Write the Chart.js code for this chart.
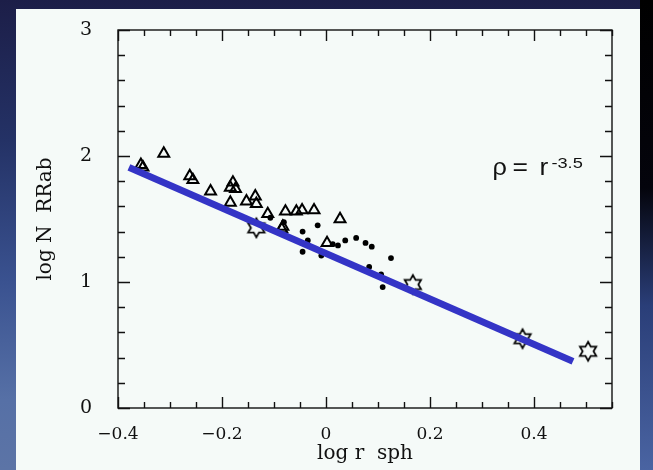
<!DOCTYPE html>
<html><head><meta charset="utf-8">
<script src="https://cdn.jsdelivr.net/npm/chart.js@4.4.1/dist/chart.umd.min.js"></script>
<style>
html,body{margin:0;padding:0;width:653px;height:470px;overflow:hidden;}
body{background:linear-gradient(to bottom,#1c1e48 0%,#243266 30%,#3a5290 60%,#5670a6 85%,#5c74a6 100%);position:relative;}
#rightband{position:absolute;left:640px;top:0;width:13px;height:470px;background:linear-gradient(to bottom,#000 0%,#04040c 40%,#2a3e78 65%,#4a64a2 100%);}
#panel{position:absolute;left:16px;top:9px;width:624px;height:461px;background:#f5faf8;}
canvas{display:block;}
</style></head>
<body>
<div id="rightband"></div>
<div id="panel"><canvas id="c" width="624" height="461"></canvas></div>
<script>
// ---- data ----
const triX = [-0.356,-0.352,-0.312,-0.262,-0.256,-0.222,-0.179,-0.184,-0.174,-0.184,-0.153,-0.136,-0.134,-0.112,-0.078,-0.057,-0.046,-0.023,-0.083,-0.085,0.002,0.027];
const triY = [1.93,1.91,2.02,1.84,1.81,1.72,1.79,1.75,1.74,1.63,1.64,1.68,1.62,1.54,1.56,1.56,1.57,1.57,1.44,1.42,1.31,1.50];
const dotX = [-0.107,-0.081,-0.045,-0.016,-0.035,-0.045,-0.009,0.013,0.023,0.037,0.058,0.076,0.088,0.125,0.083,0.106,0.109];
const dotY = [1.51,1.475,1.40,1.45,1.33,1.24,1.21,1.30,1.29,1.33,1.35,1.31,1.28,1.19,1.12,1.06,0.96];
const starX = [-0.134,0.167,0.378,0.504];
const starY = [1.43,0.98,0.55,0.45];
const fitX = [-0.379,0.475];
const fitY = [1.91,0.37];
const xTickVals = [-0.4,-0.2,0,0.2,0.4];
const xTickLabels = ['\u22120.4','\u22120.2','0','0.2','0.4'];
const yTickVals = [0,1,2,3];
const yTickLabels = ['0','1','2','3'];
const xTitle = 'log r  sph';
const yTitle = 'log N  RRab';
const annText = ['\u03C1','=','r','-3.5'];
const annAt = [0.32, 1.846];

const toPts = (xs, ys) => xs.map((v, i) => ({x: v, y: ys[i]}));

// hexagram outline marker
function makeStar(){
  const c = document.createElement('canvas');
  c.width = 24; c.height = 24;
  const g = c.getContext('2d');
  g.beginPath();
  for (let i = 0; i < 12; i++){
    const r = (i % 2 === 0) ? 9.5 : 5.4;
    const a = -Math.PI/2 + i*Math.PI/6;
    const px = 12 + r*Math.cos(a), py = 12 + r*Math.sin(a);
    if (i === 0) g.moveTo(px, py); else g.lineTo(px, py);
  }
  g.closePath();
  g.fillStyle = '#f5faf8'; g.fill();
  g.strokeStyle = '#000'; g.lineWidth = 1.7; g.stroke();
  return c;
}

const frame = {
  id: 'frame',
  beforeDatasetsDraw(chart){
    const {ctx, chartArea: a, scales: {x, y}} = chart;
    ctx.save();
    ctx.strokeStyle = '#111'; ctx.lineWidth = 1.4;
    ctx.strokeRect(a.left, a.top, a.right - a.left, a.bottom - a.top);
    ctx.beginPath();
    for (let i = 0; ; i++){
      const v = x.min + i*0.05;
      if (v > x.max + 1e-9) break;
      const px = Math.round(x.getPixelForValue(v)) + 0.5;
      const major = Math.abs(v/0.2 - Math.round(v/0.2)) < 1e-6;
      const L = major ? 11 : 6;
      ctx.moveTo(px, a.bottom); ctx.lineTo(px, a.bottom - L);
      ctx.moveTo(px, a.top); ctx.lineTo(px, a.top + L);
    }
    for (let i = 0; ; i++){
      const v = y.min + i*0.2;
      if (v > y.max + 1e-9) break;
      const py = Math.round(y.getPixelForValue(v)) + 0.5;
      const major = Math.abs(v - Math.round(v)) < 1e-6;
      const L = major ? 12 : 7;
      ctx.moveTo(a.left, py); ctx.lineTo(a.left + L, py);
      ctx.moveTo(a.right, py); ctx.lineTo(a.right - L, py);
    }
    ctx.stroke();
    ctx.restore();
  },
  afterDraw(chart){
    const {ctx, scales: {x, y}} = chart;
    const px = x.getPixelForValue(annAt[0]);
    const py = y.getPixelForValue(annAt[1]);
    ctx.save();
    ctx.fillStyle = '#111';
    ctx.textBaseline = 'alphabetic';
    ctx.font = '23px "Liberation Sans", Arial, sans-serif';
    const put = (t, dx, dy, sx) => {
      ctx.save(); ctx.translate(px + dx, py + dy); ctx.scale(sx, 1); ctx.fillText(t, 0, 0); ctx.restore();
    };
    put(annText[0], 0, 0, 1.1);
    put(annText[1], 20, 0, 1.15);
    put(annText[2], 47, 0, 1.15);
    ctx.font = '14px "Liberation Sans", Arial, sans-serif';
    put(annText[3], 59, -7, 1.3);
    ctx.restore();
  }
};

new Chart(document.getElementById('c'), {
  type: 'scatter',
  data: {
    datasets: [
      {type: 'line', data: toPts(fitX, fitY), borderColor: '#3434c6', borderWidth: 7, pointRadius: 0, fill: false, order: 0, borderCapStyle: 'butt'},
      {data: toPts(starX, starY), pointStyle: makeStar(), pointRadius: 11, order: 1},
      {data: toPts(triX, triY), pointStyle: 'triangle', pointRadius: 6.3, borderColor: '#000', borderWidth: 2, backgroundColor: 'rgba(0,0,0,0)', order: 2},
      {data: toPts(dotX, dotY), pointStyle: 'circle', pointRadius: 2.9, borderWidth: 0, backgroundColor: '#000', order: 3}
    ]
  },
  options: {
    responsive: false,
    animation: false,
    devicePixelRatio: 1,
    layout: {padding: {top: 21, right: 28, left: 0, bottom: 0}},
    plugins: {legend: {display: false}, tooltip: {enabled: false}},
    scales: {
      x: {
        type: 'linear', min: -0.4, max: 0.55,
        grid: {display: false},
        border: {display: false},
        afterBuildTicks: s => { s.ticks = xTickVals.map(v => ({value: v})); },
        afterFit: s => { s.height = 62; s.paddingLeft = 0; s.paddingRight = 0; s.paddingTop = 0; s.paddingBottom = 0; },
        ticks: {
          autoSkip: false, maxRotation: 0, padding: 8, color: '#111',
          font: {family: '"DejaVu Serif", serif', size: 17},
          callback: (v) => { const i = xTickVals.findIndex(t => Math.abs(t - v) < 1e-6); return i >= 0 ? xTickLabels[i] : ''; }
        },
        title: {display: true, text: xTitle, color: '#111', font: {family: '"DejaVu Serif", serif', size: 20}, padding: {top: 0, bottom: 4}}
      },
      y: {
        type: 'linear', min: 0, max: 3,
        grid: {display: false},
        border: {display: false},
        afterBuildTicks: s => { s.ticks = yTickVals.map(v => ({value: v})); },
        afterFit: s => { s.width = 102; s.paddingTop = 0; s.paddingBottom = 0; s.paddingLeft = 0; s.paddingRight = 0; },
        ticks: {
          autoSkip: false, padding: 18, color: '#111',
          font: {family: '"DejaVu Serif", serif', size: 19},
          callback: (v) => { const i = yTickVals.indexOf(v); return i >= 0 ? yTickLabels[i] : ''; }
        },
        title: {display: true, text: yTitle, color: '#111', font: {family: '"DejaVu Serif", serif', size: 20}, padding: {top: 18, bottom: 0}}
      }
    }
  },
  plugins: [frame]
});
</script>
</body></html>
